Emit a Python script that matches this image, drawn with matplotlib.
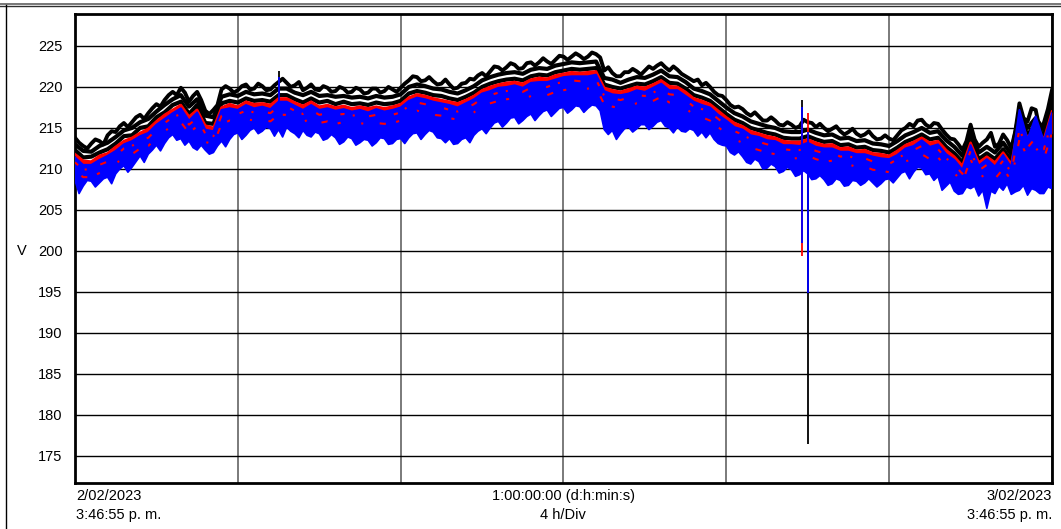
import numpy as np
import matplotlib
matplotlib.use("Agg")
import matplotlib.pyplot as plt
from matplotlib.lines import Line2D

plt.rcParams['font.family'] = ['Liberation Sans', 'DejaVu Sans']

# registro de tension: promedios cada 12 min y extremos cada 6 min, 24 h
horas = np.linspace(0, 24, 121)
horas_f = np.linspace(0, 24, 241)

# fase 1 (negro): max (cada 6 min) / prom / min
neg_max = [213.8, 213.2, 212.8, 212.5, 213.1, 213.6, 213.4, 213.0, 214.1, 214.6, 214.5, 215.2, 215.6, 215.1, 215.7, 216.3, 216.6, 216.1, 216.8, 217.4,
           217.9, 217.6, 218.4, 219.0, 219.4, 219.0, 219.9, 219.3, 218.2, 218.9, 219.4, 218.4, 217.1, 216.7, 217.2, 217.8, 219.7, 220.1, 219.8, 219.3,
           219.6, 220.1, 220.3, 219.7, 219.8, 220.4, 220.1, 219.6, 219.7, 220.2, 220.6, 221.0, 220.5, 220.0, 220.2, 220.6, 219.6, 219.9, 220.3, 219.7,
           219.6, 220.1, 219.9, 219.4, 219.5, 220.0, 219.8, 219.3, 219.4, 219.9, 219.7, 219.2, 219.3, 219.8, 219.8, 219.3, 219.5, 220.0, 219.7, 219.4,
           219.9, 220.4, 220.8, 221.3, 221.2, 220.7, 220.8, 221.2, 220.7, 220.3, 220.4, 220.9, 220.3, 219.8, 219.9, 220.4, 220.5, 221.0, 220.9, 221.4,
           221.7, 221.3, 221.9, 222.5, 222.4, 222.0, 222.4, 222.9, 222.7, 222.2, 222.3, 222.9, 223.0, 222.6, 223.0, 223.5, 223.1, 222.8, 223.3, 223.8,
           223.7, 223.3, 223.7, 224.1, 223.8, 223.4, 223.7, 224.2, 224.0, 223.6, 222.0, 222.4, 221.7, 221.3, 221.3, 221.8, 221.8, 222.2, 221.9, 221.5,
           222.0, 222.5, 222.2, 222.6, 222.9, 222.4, 222.0, 222.5, 222.1, 221.6, 221.3, 221.0, 220.7, 220.9, 220.2, 220.5, 220.0, 219.4, 219.0, 218.9,
           218.4, 217.8, 217.5, 217.6, 217.3, 216.8, 216.5, 216.9, 216.4, 215.9, 215.9, 216.3, 215.9, 215.4, 215.3, 215.7, 215.4, 215.0, 215.2, 216.0,
           215.7, 215.6, 215.1, 215.5, 215.0, 214.6, 214.9, 215.2, 214.6, 214.2, 214.5, 214.9, 214.3, 214.0, 214.2, 214.6, 214.0, 213.6, 213.7, 214.1,
           213.7, 213.5, 214.1, 214.7, 215.0, 215.5, 215.2, 215.9, 216.0, 215.4, 215.1, 215.6, 215.5, 214.8, 214.2, 213.7, 213.6, 213.0, 212.3, 213.4,
           215.4, 213.6, 212.7, 213.2, 213.6, 214.4, 212.7, 213.1, 214.2, 213.5, 212.5, 214.6, 218.0, 216.2, 215.8, 217.4, 217.2, 214.8, 215.6, 217.3, 219.6]
neg_prom = [213.0, 212.2, 212.1, 212.8, 213.2, 213.9, 214.7, 215.0, 215.7, 216.1,
            217.0, 217.8, 218.5, 219.0, 217.6, 218.5, 216.5, 216.3, 218.8, 219.1,
            218.9, 219.4, 219.1, 219.2, 219.0, 219.8, 219.8, 219.3, 219.0, 219.4,
            218.9, 219.0, 218.8, 218.9, 218.7, 218.8, 218.6, 218.9, 218.7, 218.8,
            219.1, 220.0, 220.3, 220.1, 219.8, 219.7, 219.4, 219.2, 219.6, 220.1,
            220.8, 221.2, 221.5, 221.7, 221.8, 221.6, 222.1, 222.3, 222.2, 222.6,
            222.8, 223.0, 222.9, 223.0, 223.1, 221.1, 220.9, 220.5, 220.9, 221.2,
            221.1, 221.5, 222.0, 221.3, 221.2, 220.6, 219.8, 219.5, 219.1, 218.3,
            217.5, 216.8, 216.4, 215.8, 215.5, 215.2, 215.0, 214.6, 214.5, 214.5,
            214.8, 214.4, 214.1, 214.2, 213.7, 213.8, 213.4, 213.5, 213.1, 213.0,
            212.8, 213.4, 214.1, 214.5, 215.0, 214.4, 214.6, 213.5, 212.7, 211.6,
            214.3, 212.0, 212.7, 212.0, 213.2, 211.8, 217.0, 215.0, 216.2, 214.8, 218.5]
neg_min = [212.3, 211.4, 211.5, 212.0, 212.4, 213.1, 214.0, 214.1, 215.0, 215.2,
           216.3, 216.9, 217.8, 218.2, 216.7, 217.8, 215.6, 215.5, 218.0, 218.3,
           218.1, 218.6, 218.3, 218.4, 218.2, 219.0, 219.0, 218.5, 218.1, 218.6,
           218.1, 218.3, 217.9, 218.2, 217.9, 218.0, 217.8, 218.1, 217.9, 218.0,
           218.3, 219.2, 219.5, 219.3, 219.0, 218.9, 218.6, 218.4, 218.8, 219.3,
           220.0, 220.4, 220.7, 220.9, 221.0, 220.8, 221.3, 221.5, 221.4, 221.8,
           222.0, 222.2, 222.1, 222.2, 222.3, 220.3, 220.0, 219.8, 220.1, 220.4,
           220.3, 220.7, 221.2, 220.5, 220.4, 219.8, 219.0, 218.7, 218.3, 217.5,
           216.7, 216.0, 215.6, 215.0, 214.7, 214.4, 214.2, 213.8, 213.7, 213.7,
           214.0, 213.6, 213.3, 213.4, 212.9, 213.0, 212.6, 212.7, 212.3, 212.2,
           212.0, 212.6, 213.3, 213.7, 214.2, 213.6, 213.8, 212.7, 211.9, 210.8,
           213.4, 211.2, 211.9, 211.2, 212.4, 211.0, 216.2, 214.2, 215.4, 214.0, 217.6]

# fase 2 (rojo)
roj_max = [211.8, 211.0, 210.9, 211.6, 211.9, 212.7, 213.4, 213.8, 214.4, 214.9,
           215.8, 216.6, 217.2, 217.8, 216.4, 217.2, 215.3, 215.0, 217.5, 217.9,
           217.6, 218.2, 217.9, 218.0, 217.8, 218.6, 218.6, 218.1, 217.7, 218.2,
           217.6, 217.8, 217.5, 217.7, 217.4, 217.6, 217.4, 217.6, 217.4, 217.6,
           217.9, 218.7, 219.1, 218.9, 218.6, 218.4, 218.2, 218.0, 218.4, 218.9,
           219.6, 220.0, 220.3, 220.5, 220.6, 220.4, 220.9, 221.1, 221.0, 221.4,
           221.6, 221.8, 221.7, 221.8, 221.9, 219.9, 219.6, 219.4, 219.7, 220.0,
           219.9, 220.3, 220.8, 220.1, 220.0, 219.4, 218.6, 218.3, 217.9, 217.1,
           216.3, 215.6, 215.2, 214.6, 214.3, 214.0, 213.8, 213.4, 213.3, 213.3,
           213.6, 213.2, 212.9, 213.0, 212.5, 212.6, 212.2, 212.3, 211.9, 211.8,
           211.6, 212.2, 212.9, 213.3, 213.8, 213.2, 213.4, 212.3, 211.5, 210.4,
           213.2, 210.8, 211.5, 210.8, 212.0, 210.6, 216.0, 213.8, 215.0, 213.6, 217.0]
roj_prom = [210.8, 209.9, 210.0, 210.5, 210.9, 211.6, 212.5, 212.8, 213.5, 213.8,
            214.8, 215.6, 216.3, 216.7, 215.4, 216.2, 214.3, 214.0, 216.5, 216.9,
            216.7, 217.1, 216.9, 217.0, 216.8, 217.6, 217.6, 217.1, 216.7, 217.2,
            216.6, 216.8, 216.6, 216.7, 216.5, 216.6, 216.4, 216.6, 216.5, 216.6,
            216.9, 217.7, 218.1, 217.9, 217.6, 217.5, 217.2, 217.0, 217.4, 217.9,
            218.6, 219.0, 219.3, 219.5, 219.6, 219.4, 219.9, 220.1, 220.0, 220.4,
            220.6, 220.8, 220.7, 220.8, 220.9, 218.9, 218.6, 218.4, 218.7, 219.0,
            218.9, 219.3, 219.8, 219.1, 219.0, 218.4, 217.6, 217.3, 216.9, 216.1,
            215.3, 214.6, 214.2, 213.6, 213.3, 213.0, 212.8, 212.4, 212.3, 212.3,
            212.6, 212.2, 211.9, 212.0, 211.5, 211.6, 211.2, 211.3, 210.9, 210.8,
            210.6, 211.2, 211.9, 212.3, 212.8, 212.2, 212.4, 211.3, 210.5, 209.4,
            212.2, 209.8, 210.5, 209.8, 211.0, 209.6, 214.8, 212.6, 213.8, 212.4, 215.8]
roj_min = [209.8, 209.0, 209.0, 209.5, 209.9, 210.6, 211.5, 211.8, 212.5, 212.8,
           213.8, 214.6, 215.3, 215.7, 214.4, 215.2, 213.3, 213.0, 215.5, 215.9,
           215.7, 216.1, 215.9, 216.0, 215.8, 216.6, 216.6, 216.1, 215.7, 216.2,
           215.6, 215.8, 215.5, 215.7, 215.5, 215.6, 215.4, 215.6, 215.5, 215.6,
           215.9, 216.7, 217.1, 216.9, 216.6, 216.5, 216.2, 216.0, 216.4, 216.9,
           217.6, 218.0, 218.3, 218.5, 218.6, 218.4, 218.9, 219.1, 219.0, 219.4,
           219.6, 219.8, 219.7, 219.8, 219.9, 217.9, 217.6, 217.4, 217.7, 218.0,
           217.9, 218.3, 218.8, 218.1, 218.0, 217.4, 216.6, 216.3, 215.9, 215.1,
           214.3, 213.6, 213.2, 212.6, 212.3, 212.0, 211.8, 211.4, 211.3, 211.3,
           211.6, 211.2, 210.9, 211.0, 210.5, 210.6, 210.2, 210.3, 209.9, 209.8,
           209.6, 210.2, 210.9, 211.3, 211.8, 211.2, 211.4, 210.3, 209.5, 208.4,
           211.2, 208.8, 209.5, 208.8, 210.0, 208.6, 213.6, 211.4, 212.6, 211.2, 214.4]

# fase 3 (azul): max / prom / min (cada 6 min)
azu_max = [211.4, 210.5, 210.5, 211.1, 211.6, 212.2, 213.0, 213.4, 214.0, 214.4,
           215.4, 216.1, 216.8, 217.4, 215.9, 216.9, 214.8, 214.6, 217.2, 217.4,
           217.2, 217.8, 217.4, 217.6, 217.3, 218.2, 218.2, 217.7, 217.2, 217.8,
           217.2, 217.4, 217.1, 217.3, 217.0, 217.2, 216.9, 217.3, 217.0, 217.2,
           217.5, 218.3, 218.7, 218.5, 218.2, 218.0, 217.8, 217.5, 218.0, 218.5,
           219.2, 219.5, 219.9, 220.0, 220.2, 219.9, 220.5, 220.6, 220.6, 220.9,
           221.2, 221.3, 221.3, 221.3, 221.5, 219.5, 219.1, 219.0, 219.2, 219.6,
           219.4, 219.9, 220.4, 219.6, 219.6, 218.9, 218.2, 217.8, 217.5, 216.6,
           215.9, 215.1, 214.8, 214.1, 213.9, 213.5, 213.4, 212.9, 212.9, 212.8,
           213.2, 212.7, 212.5, 212.5, 212.1, 212.1, 211.8, 211.8, 211.5, 211.3,
           211.2, 211.7, 212.5, 212.8, 213.5, 212.7, 213.0, 211.8, 211.1, 209.9,
           212.9, 210.4, 211.2, 210.3, 211.7, 210.2, 217.2, 213.6, 216.4, 213.4, 216.8]
azu_prom = [210.3, 209.4, 209.5, 210.0, 210.4, 211.1, 212.0, 212.3, 213.0, 213.3,
            214.3, 215.1, 215.8, 216.2, 214.9, 215.7, 213.8, 213.5, 216.0, 216.4,
            216.2, 216.6, 216.4, 216.5, 216.3, 217.1, 217.1, 216.6, 216.2, 216.7,
            216.1, 216.3, 216.1, 216.2, 216.0, 216.1, 215.9, 216.1, 216.0, 216.1,
            216.4, 217.2, 217.6, 217.4, 217.1, 217.0, 216.7, 216.5, 216.9, 217.4,
            218.1, 218.5, 218.8, 219.0, 219.1, 218.9, 219.4, 219.6, 219.5, 219.9,
            220.1, 220.3, 220.2, 220.3, 220.4, 218.4, 218.1, 217.9, 218.2, 218.5,
            218.4, 218.8, 219.3, 218.6, 218.5, 217.9, 217.1, 216.8, 216.4, 215.6,
            214.8, 214.1, 213.7, 213.1, 212.8, 212.5, 212.3, 211.9, 211.8, 211.8,
            212.1, 211.7, 211.4, 211.5, 211.0, 211.1, 210.7, 210.8, 210.4, 210.3,
            210.1, 210.7, 211.4, 211.8, 212.3, 211.7, 211.9, 210.8, 210.0, 208.9,
            211.7, 209.3, 210.0, 209.3, 210.5, 209.1, 213.0, 210.8, 212.0, 210.5, 213.2]
azu_min = [208.6, 207.0, 207.9, 208.6, 208.5, 207.8, 208.3, 208.8, 209.0, 208.2, 209.4, 210.0, 210.4, 209.6, 210.2, 210.9, 211.6, 210.8, 211.8, 212.3,
           212.9, 212.2, 213.1, 213.8, 214.2, 213.5, 213.7, 212.9, 213.4, 212.6, 212.3, 212.9, 212.3, 211.8, 212.0, 212.8, 213.4, 212.7, 213.6, 214.2,
           214.4, 213.6, 214.1, 214.7, 215.0, 214.3, 214.6, 215.1, 214.9, 214.0, 214.8, 213.9, 215.1, 214.6, 214.3, 213.8, 214.7, 214.1, 213.9, 214.5,
           214.3, 213.5, 213.7, 214.2, 213.8, 213.0, 213.3, 213.9, 213.7, 212.9, 213.2, 213.6, 213.5, 212.8, 213.2, 213.8, 213.7, 213.0, 213.1, 213.6,
           213.7, 213.1, 213.8, 214.3, 214.4, 213.6, 214.2, 214.7, 214.5, 213.8, 213.7, 213.2, 213.7, 213.0, 213.1, 213.6, 213.8, 213.2, 214.1, 214.6,
           214.9, 214.3, 215.0, 215.6, 215.8, 215.1, 215.6, 216.2, 216.3, 215.5, 215.9, 216.4, 216.7, 215.9, 216.5, 217.0, 217.2, 216.4, 216.9, 217.4,
           217.5, 216.8, 217.2, 217.7, 217.6, 216.9, 217.4, 217.8, 217.7, 217.1, 214.8, 214.2, 214.7, 213.6, 214.3, 214.9, 215.1, 214.5, 214.9, 215.4,
           215.4, 214.8, 215.2, 215.7, 215.9, 215.2, 215.0, 214.4, 215.1, 214.6, 214.5, 214.9, 214.7, 214.0, 214.5, 213.8, 214.4, 213.6, 213.1, 212.9,
           212.8, 212.0, 211.7, 212.1, 211.5, 210.8, 210.6, 211.2, 210.9, 210.0, 210.1, 210.6, 210.3, 209.5, 209.7, 210.2, 209.9, 209.1, 209.3, 209.8,
           209.4, 208.7, 208.8, 209.2, 208.7, 208.0, 208.2, 208.8, 208.6, 207.9, 208.0, 208.6, 208.5, 208.0, 208.3, 208.8, 208.3, 207.8, 208.2, 208.7,
           208.8, 208.3, 208.9, 209.5, 209.7, 208.8, 209.6, 210.2, 210.1, 209.3, 209.4, 208.6, 209.1, 207.4, 207.9, 208.4, 207.3, 206.9, 207.0, 207.8,
           207.6, 207.9, 206.7, 207.4, 205.2, 207.3, 207.0, 207.9, 207.4, 208.2, 206.9, 207.2, 207.4, 208.0, 206.8, 207.6, 207.4, 207.0, 207.0, 207.8, 207.6]

# eventos rapidos (picos y huecos)
evt_t = [5.0, 17.87, 18.01]
evt_neg = ([219.0, 214.0, 176.4], [222.0, 218.4, 214.0])
evt_roj = ([216.0, 199.4, 213.0], [218.5, 216.0, 216.8])
evt_azu = ([215.0, 201.0, 194.9], [221.2, 217.6, 214.5])

fig = plt.figure(figsize=(10.61, 5.29), dpi=100)
ax = fig.add_axes([0.0707, 0.0870, 0.9208, 0.8866])

# negro: tres trazos gruesos
ax.plot(horas_f, neg_max, color='black', lw=2.8, zorder=3)
ax.plot(horas, neg_prom, color='black', lw=3.0, zorder=3)
ax.plot(horas, neg_min, color='black', lw=3.0, zorder=3)
ax.vlines(evt_t, evt_neg[0], evt_neg[1], color='black', lw=1.3, zorder=3)

# rojo: banda entre max y min
ax.fill_between(horas, roj_max, roj_min, color='red', lw=0, zorder=4)
ax.plot(horas, roj_max, color='red', lw=1.8, zorder=4)
ax.vlines(evt_t, evt_roj[0], evt_roj[1], color='red', lw=1.3, zorder=4)

# azul: banda entre max y min
ax.fill(np.r_[horas, horas_f[::-1]], np.r_[azu_max, azu_min[::-1]], color='blue', lw=0, zorder=5)
ax.plot(horas, azu_max, color='blue', lw=1.4, zorder=5)
ax.plot(horas_f, azu_min, color='blue', lw=1.2, zorder=5)
ax.plot(horas, azu_prom, color='blue', lw=1.4, zorder=5)
ax.vlines(evt_t, evt_azu[0], evt_azu[1], color='blue', lw=1.3, zorder=5)

# trazos rojos que asoman dentro de la banda azul
ax.plot(horas, roj_prom, color='red', lw=1.5, ls=(0, (2, 4, 1, 7, 3, 9)), zorder=6)
ax.plot(horas, roj_min, color='red', lw=1.5, ls=(5, (1, 8, 3, 5, 1.5, 10)), zorder=6)

ax.set_xlim(0, 24)
ax.set_ylim(171.7, 228.9)
ax.set_yticks(np.arange(175, 226, 5))
ax.set_xticks(np.arange(0, 25, 4))
ax.set_xticklabels([])
ax.tick_params(axis='y', length=0, pad=9, labelsize=10.5)
ax.tick_params(axis='x', length=0)
ax.grid(axis='y', color='black', lw=1.0, zorder=1)
ax.grid(axis='x', color='#7a7a7a', lw=1.4, zorder=1)
for s in ax.spines.values():
    s.set_linewidth(2.0)
    s.set_color('black')

fig.text(0.016, 1 - 251 / 529, 'V', fontsize=10.5, va='center')

# rotulos de tiempo bajo el eje
fs = 10.5
fig.text(76 / 1061, 1 - 496 / 529, '2/02/2023', fontsize=fs, va='center')
fig.text(76 / 1061, 1 - 515 / 529, '3:46:55 p. m.', fontsize=fs, va='center')
fig.text(563 / 1061, 1 - 496 / 529, '1:00:00:00 (d:h:min:s)', fontsize=fs, va='center', ha='center')
fig.text(563 / 1061, 1 - 515 / 529, '4 h/Div', fontsize=fs, va='center', ha='center')
fig.text(1052 / 1061, 1 - 496 / 529, '3/02/2023', fontsize=fs, va='center', ha='right')
fig.text(1052 / 1061, 1 - 515 / 529, '3:46:55 p. m.', fontsize=fs, va='center', ha='right')

# marco de la ventana
fig.add_artist(Line2D([0, 1], [1 - 3.5 / 529] * 2, color='#606060', lw=1.2))
fig.add_artist(Line2D([0, 1], [1 - 5.5 / 529] * 2, color='#303030', lw=1.0))
fig.add_artist(Line2D([5.5 / 1061] * 2, [0, 1 - 5 / 529], color='black', lw=1.0))

fig.savefig('out.png', dpi=100)
